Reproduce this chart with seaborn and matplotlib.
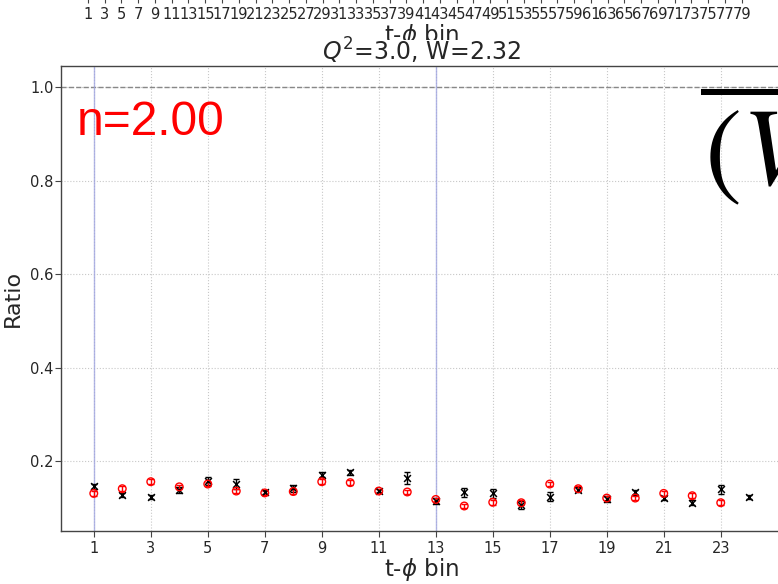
import matplotlib
matplotlib.use("Agg")
import matplotlib.pyplot as plt
import seaborn as sns
import pandas as pd
from matplotlib.patches import Rectangle

# ---------------- data ----------------
bins = [1, 2, 3, 4, 5, 6, 7, 8, 9, 10, 11, 12, 13, 14, 15, 16, 17, 18, 19, 20, 21, 22, 23, 24]
ratio_black = [0.146, 0.127, 0.123, 0.138, 0.158, 0.151, 0.134, 0.142, 0.171, 0.176, 0.137, 0.164,
               0.115, 0.133, 0.131, 0.106, 0.124, 0.139, 0.119, 0.133, 0.121, 0.111, 0.140, 0.123]
err_black = [0.005, 0.004, 0.004, 0.006, 0.008, 0.010, 0.004, 0.007, 0.006, 0.005, 0.004, 0.013,
             0.006, 0.009, 0.009, 0.008, 0.010, 0.006, 0.006, 0.006, 0.005, 0.005, 0.010, 0.004]
bins_red = [1, 2, 3, 4, 5, 6, 7, 8, 9, 10, 11, 12, 13, 14, 15, 16, 17, 18, 19, 20, 21, 22, 23]
ratio_red = [0.131, 0.141, 0.156, 0.145, 0.151, 0.136, 0.132, 0.135, 0.156, 0.154, 0.136, 0.134,
             0.118, 0.104, 0.112, 0.111, 0.151, 0.141, 0.121, 0.121, 0.131, 0.126, 0.111]
err_red = [0.005, 0.005, 0.005, 0.005, 0.005, 0.005, 0.004, 0.005, 0.005, 0.005, 0.004, 0.005,
           0.004, 0.004, 0.005, 0.005, 0.005, 0.005, 0.005, 0.005, 0.005, 0.005, 0.005]
bottom_ticks = [1, 3, 5, 7, 9, 11, 13, 15, 17, 19, 21, 23]
upper_ticks = [1, 3, 5, 7, 9, 11, 13, 15, 17, 19, 21, 23, 25, 27, 29, 31, 33, 35, 37, 39,
               41, 43, 45, 47, 49, 51, 53, 55, 57, 59, 61, 63, 65, 67, 69, 71, 73, 75, 77, 79]
vlines_at = [1, 13]
title = r"$Q^2$=3.0, W=2.32"
n_label = "n=2.00"

df_black = pd.DataFrame({"bin": bins, "ratio": ratio_black, "err": err_black})
df_red = pd.DataFrame({"bin": bins_red, "ratio": ratio_red, "err": err_red})

sns.set_style("ticks")
plt.rcParams["font.family"] = ["DejaVu Sans"]

W, H = 778, 584
fig = plt.figure(figsize=(W / 100, H / 100), dpi=100)

# main axes (extends past the right edge, as in the reference crop)
ax = fig.add_axes([61 / W, (H - 531) / H, 721 / W, 465 / H])
ax.set_zorder(2)

# upper neighbouring panel (only its bottom axis is visible)
top = fig.add_axes([61 / W, (H + 3) / H, 721 / W, 0.4])
top.set_zorder(0)

# white strip that hides the lower part of the upper panel's label
fig.patches.append(Rectangle((0, (H - 66) / H), 1, 26 / H, transform=fig.transFigure,
                             facecolor="white", edgecolor="none", zorder=1))

spine_col = "#444444"
for s in ax.spines.values():
    s.set_color(spine_col)
    s.set_linewidth(1.0)

ax.grid(True, linestyle=":", color="#c8c8c8", linewidth=0.8)
ax.axhline(1.0, color="#888888", linestyle="--", linewidth=1.0, zorder=1)
for v in vlines_at:
    ax.axvline(v, color="#9fa4e0", linewidth=1.0, alpha=0.8, zorder=1)

ax.errorbar(df_black["bin"], df_black["ratio"], yerr=df_black["err"], fmt="none",
            ecolor="black", elinewidth=1.0, capsize=2.5, capthick=1.0, zorder=3)
sns.scatterplot(data=df_black, x="bin", y="ratio", ax=ax, marker="x", color="black",
                s=24, linewidth=1.1, zorder=4)
ax.errorbar(df_red["bin"], df_red["ratio"], yerr=df_red["err"], fmt="none",
            ecolor="red", elinewidth=1.0, capsize=2.0, capthick=1.0, zorder=3)
sns.scatterplot(data=df_red, x="bin", y="ratio", ax=ax, marker="o", facecolor="none",
                edgecolor="red", s=30, linewidth=1.0, zorder=4)

ax.set_xlim(-0.15, 25.15)
ax.set_ylim(0.0505, 1.0456)
ax.set_xticks(bottom_ticks)
ax.set_yticks([0.2, 0.4, 0.6, 0.8, 1.0])
ax.tick_params(axis="both", labelsize=10.5, direction="out", length=4, color=spine_col)
ax.tick_params(axis="y", pad=1.5)
ax.set_xlabel(r"t-$\phi$ bin", fontsize=16.5, labelpad=0)
ax.set_ylabel("Ratio", fontsize=16, labelpad=5)
ax.set_title(title, fontsize=17, pad=3)

ax.text(0.022, 0.852, n_label, transform=ax.transAxes, color="red", fontsize=34.5,
        family="Liberation Sans", va="baseline", ha="left")

fig.text(700 / W, (H - 186) / H, r"$\overline{\hspace{0.06}(V)}$", fontsize=80,
         math_fontfamily="stix", color="black", va="baseline", ha="left")

# upper panel bottom axis
top.set_xlim(-2.2, 83.8)
top.set_xticks(upper_ticks)
top.set_yticks([])
for k in ["top", "left", "right"]:
    top.spines[k].set_visible(False)
top.spines["bottom"].set_color(spine_col)
top.tick_params(axis="x", labelsize=10.5, direction="out", length=4, color=spine_col)
top.set_xlabel(r"t-$\phi$ bin", fontsize=16.5, labelpad=0)

fig.savefig("out.png", dpi=100)
